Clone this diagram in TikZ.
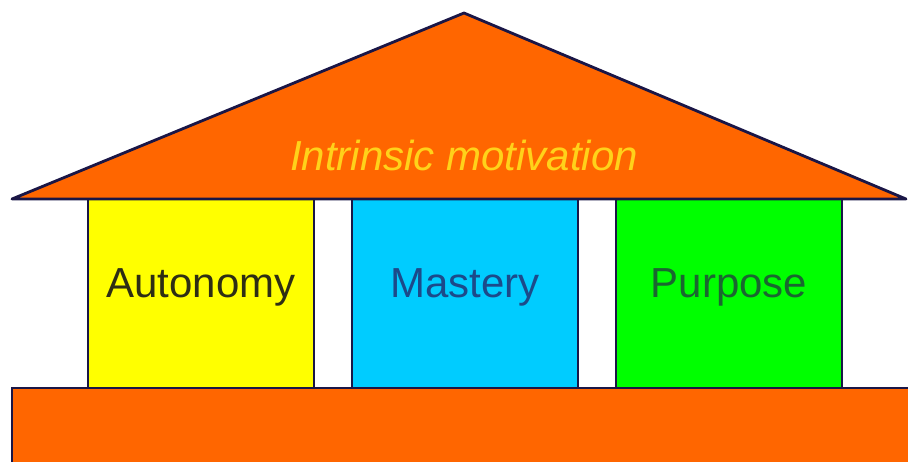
\documentclass[tikz,border=0pt]{standalone}
\usepackage{fontspec}
\setmainfont{Liberation Sans}
\definecolor{roofcol}{HTML}{FF6600}
\definecolor{edgecol}{HTML}{1A1646}
\definecolor{pillarA}{HTML}{FFFF00}
\definecolor{pillarM}{HTML}{00CCFF}
\definecolor{pillarP}{HTML}{00FF00}
\definecolor{titlecol}{HTML}{FFD21A}
\definecolor{textA}{HTML}{2E2E14}
\definecolor{textM}{HTML}{1C4A8A}
\definecolor{textP}{HTML}{1A6630}
\tikzset{
  pillar/.style = {draw = edgecol, line width = 2.8pt},
  pillartext/.style = {font = \fontsize{42}{48}\selectfont},
}
\begin{document}
\begin{tikzpicture}[x = 1pt, y = -1pt]
    \useasboundingbox (0, 0) rectangle (908, 461);
    % pillars
    \draw[pillar, fill = pillarA] (88, 199) rectangle (314, 388);
    \draw[pillar, fill = pillarM] (352, 199) rectangle (578, 388);
    \draw[pillar, fill = pillarP] (616, 199) rectangle (842, 388);
    \node[pillartext, text = textA] (autonomy) at (201, 287) {Autonomy};
    \node[pillartext, text = textM] (mastery) at (465, 287) {Mastery};
    \node[pillartext, text = textP] (purpose) at (729, 287) {Purpose};
    % roof and floor
    \draw[pillar, fill = roofcol, line join = round] (12, 199) -- (464, 13) -- (906, 199) -- cycle;
    \draw[pillar, fill = roofcol] (12, 388) rectangle (930, 480);
    \node[pillartext, text = titlecol, font = \fontsize{42}{48}\selectfont\itshape] (title) at (464, 155) {Intrinsic motivation};
\end{tikzpicture}
\end{document}
